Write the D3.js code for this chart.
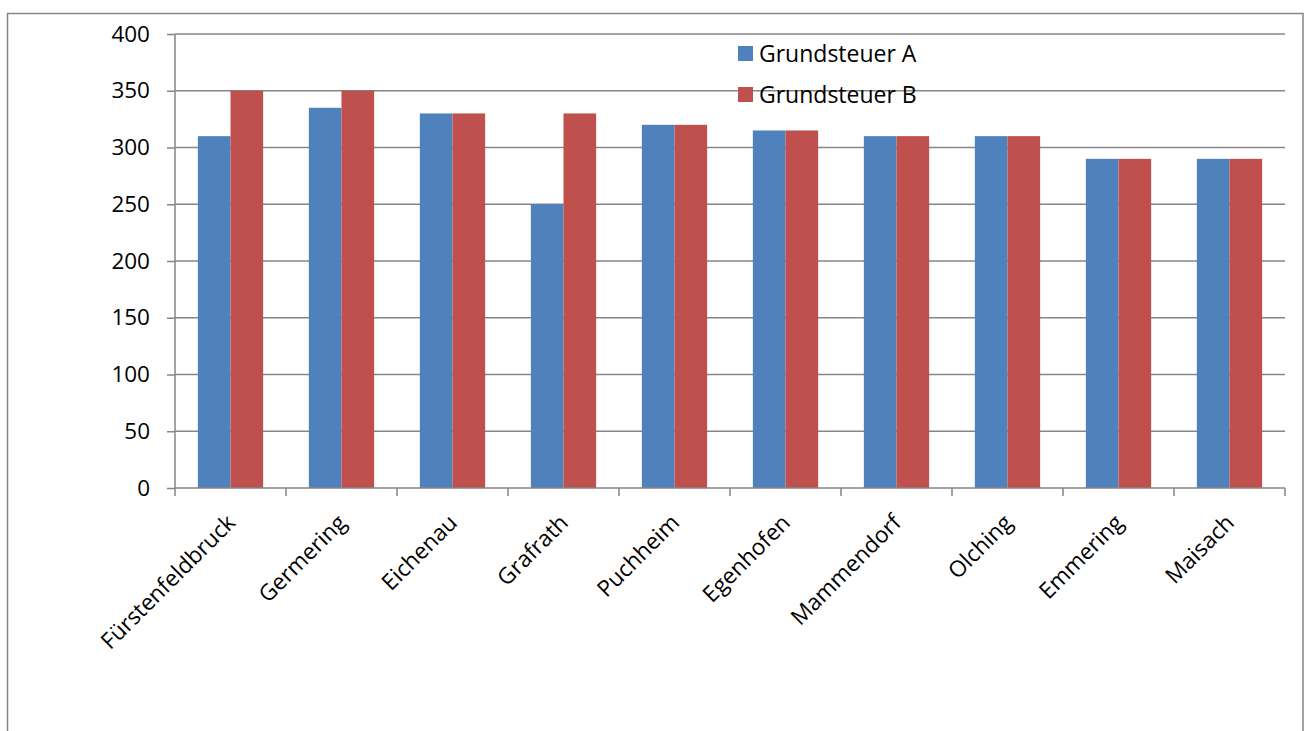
<!DOCTYPE html>
<html><head><meta charset="utf-8">
<script src="https://cdn.jsdelivr.net/npm/d3@7"></script>
<style>body{margin:0;background:#fff}svg{display:block}</style>
</head><body>
<svg id="c" width="1305" height="731"></svg>
<script>
const categories = ["Fürstenfeldbruck","Germering","Eichenau","Grafrath","Puchheim","Egenhofen","Mammendorf","Olching","Emmering","Maisach"];
const seriesNames = ["Grundsteuer A","Grundsteuer B"];
const grundsteuerA = [310,335,330,250,320,315,310,310,290,290];
const grundsteuerB = [350,350,330,330,320,315,310,310,290,290];
const yTicks = [0,50,100,150,200,250,300,350,400];
const colors = ["#4F81BD","#C0504D"];

const svg = d3.select("#c");
const font = "'Open Sans', Lato, sans-serif";
const L=175, R=1285, T=34, B=488;

svg.append("rect").attr("x",7.5).attr("y",13.5).attr("width",1295.5).attr("height",740)
  .attr("fill","none").attr("stroke","#868686").attr("stroke-width",1.5);

const x = d3.scaleBand().domain(categories).range([L,R]).paddingInner(0).paddingOuter(0);
const y = d3.scaleLinear().domain([0,400]).range([B,T]);
const inner = d3.scaleBand().domain(seriesNames).range([0,x.bandwidth()]).paddingInner(0).paddingOuter(0.7);

// gridlines
svg.append("g").selectAll("line").data(yTicks.filter(d=>d>0)).join("line")
  .attr("x1",L).attr("x2",R).attr("y1",d=>y(d)).attr("y2",d=>y(d))
  .attr("stroke","#868686").attr("stroke-width",1.5);

// bars
const data = [grundsteuerA, grundsteuerB];
seriesNames.forEach((s,si)=>{
  svg.append("g").selectAll("rect").data(categories).join("rect")
    .attr("x",(c)=>x(c)+inner(s))
    .attr("width",inner.bandwidth())
    .attr("y",(c,i)=>y(data[si][i]))
    .attr("height",(c,i)=>B-y(data[si][i]))
    .attr("fill",colors[si]);
});

// y axis
const yAxis = d3.axisLeft(y).tickValues(yTicks).tickSize(8).tickPadding(17);
const gy = svg.append("g").attr("transform",`translate(${L},0)`).call(yAxis);
gy.select(".domain").attr("stroke","#868686").attr("stroke-width",1.5).attr("d",`M-0,${B}V${T}`);
gy.selectAll(".tick line").attr("stroke","#868686").attr("stroke-width",1.5);
gy.selectAll(".tick text").attr("font-family",font).attr("font-size",22.5).attr("fill","#000");

// x axis
const xAxis = d3.axisBottom(x).tickSize(0).tickFormat(()=>"");
const gx = svg.append("g").attr("transform",`translate(0,${B})`).call(xAxis);
gx.select(".domain").attr("stroke","#868686").attr("stroke-width",1.5).attr("d",`M${L},0H${R}`);
const bounds = categories.map(c=>x(c)).concat([R]);
gx.selectAll("line.tk").data(bounds).join("line").attr("class","tk")
  .attr("x1",d=>d).attr("x2",d=>d).attr("y1",0).attr("y2",8)
  .attr("stroke","#868686").attr("stroke-width",1.5);
svg.append("g").selectAll("text").data(categories).join("text")
  .attr("transform",c=>`translate(${x(c)+x.bandwidth()/2-5},${B+25}) rotate(-45)`)
  .attr("text-anchor","end").attr("dy","0.7em")
  .attr("font-family",font).attr("font-size",22.5).attr("fill","#000")
  .text(c=>c);

// legend
const lg = svg.append("g").attr("transform","translate(738,46)");
seriesNames.forEach((s,i)=>{
  const g = lg.append("g").attr("transform",`translate(0,${i*41})`);
  g.append("rect").attr("width",15).attr("height",15).attr("fill",colors[i]);
  g.append("text").attr("x",21).attr("y",16).attr("font-family",font).attr("font-size",23).attr("fill","#000").text(s);
});
</script>
</body></html>
